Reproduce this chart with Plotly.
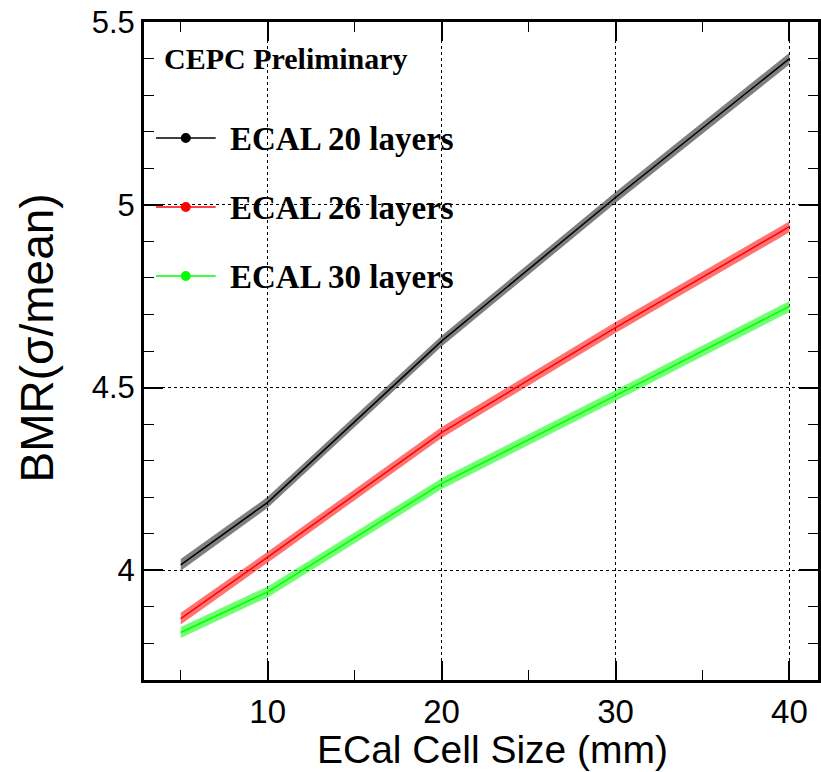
import plotly.graph_objects as go

# ---------------- data ----------------
cell_size = [5, 10, 20, 30, 40]
bmr_20_layers = [4.015, 4.186, 4.627, 5.020, 5.400]
bmr_26_layers = [3.868, 4.036, 4.377, 4.664, 4.940]
bmr_30_layers = [3.830, 3.941, 4.237, 4.478, 4.722]
err_20_layers = [0.016, 0.015, 0.015, 0.015, 0.016]
err_26_layers = [0.016, 0.015, 0.015, 0.015, 0.015]
err_30_layers = [0.015, 0.015, 0.015, 0.015, 0.015]

series_names = ["ECAL 20 layers", "ECAL 26 layers", "ECAL 30 layers"]
series_vals = [bmr_20_layers, bmr_26_layers, bmr_30_layers]
series_errs = [err_20_layers, err_26_layers, err_30_layers]
line_colors = ["#000000", "#ff0000", "#00ff00"]
band_colors = ["rgba(0,0,0,0.5)", "rgba(255,0,0,0.55)", "rgba(0,255,0,0.55)"]

x_ticks = [10, 20, 30, 40]
y_ticks = [4, 4.5, 5, 5.5]
x_title = "ECal Cell Size (mm)"
y_title = "BMR(σ/mean)"
label_text = "CEPC Preliminary"

# ---------------- geometry ----------------
W, H = 821, 772
L, R, T, B = 144, 0, 22, 92
PW, PH = W - L - R, H - T - B


def px(xp):
    return (xp - L) / PW


def py(yp):
    return (H - B - yp) / PH


fig = go.Figure()

for name, vals, errs, lc, bc in zip(series_names, series_vals, series_errs,
                                     line_colors, band_colors):
    lo = [v - e for v, e in zip(vals, errs)]
    hi = [v + e for v, e in zip(vals, errs)]
    fig.add_trace(go.Scatter(x=cell_size, y=lo, mode="lines",
                             line=dict(width=0, color=lc), showlegend=False,
                             hoverinfo="skip"))
    fig.add_trace(go.Scatter(x=cell_size, y=hi, mode="lines",
                             line=dict(width=0, color=lc), fill="tonexty",
                             fillcolor=bc, showlegend=False,
                             hoverinfo="skip"))
    fig.add_trace(go.Scatter(x=cell_size, y=vals, mode="lines", name=name,
                             line=dict(width=1.5, color=lc), showlegend=False))

# ---------------- manual legend ----------------
legend_y = [138, 207, 276]
shapes = []
annotations = []
for name, lc, yy in zip(series_names, line_colors, legend_y):
    shapes.append(dict(type="line", xref="paper", yref="paper",
                       x0=px(156), x1=px(216), y0=py(yy), y1=py(yy),
                       line=dict(color=lc, width=1.5)))
    shapes.append(dict(type="circle", xref="paper", yref="paper",
                       x0=px(181), x1=px(191), y0=py(yy + 5), y1=py(yy - 5),
                       fillcolor=lc, line=dict(color=lc, width=0)))
    annotations.append(dict(xref="paper", yref="paper", x=px(228), y=py(yy + 1),
                            xanchor="left", yanchor="middle", showarrow=False,
                            text="<b>" + name + "</b>",
                            font=dict(family="Liberation Serif", size=33,
                                      color="black")))

annotations.append(dict(xref="paper", yref="paper", x=px(162), y=py(59),
                        xanchor="left", yanchor="middle", showarrow=False,
                        text="<b>" + label_text + "</b>",
                        font=dict(family="Liberation Serif", size=30,
                                  color="black")))

# axis titles
annotations.append(dict(xref="paper", yref="paper", x=px(494), y=py(749),
                        xanchor="center", yanchor="middle", showarrow=False,
                        text=x_title,
                        font=dict(family="Liberation Sans", size=39,
                                  color="black")))
annotations.append(dict(xref="paper", yref="paper", x=px(37), y=py(338),
                        xanchor="center", yanchor="middle", showarrow=False,
                        text=y_title, textangle=-90,
                        font=dict(family="Liberation Sans", size=46,
                                  color="black")))

axis_common = dict(
    showline=True, linecolor="black", linewidth=3, mirror="ticks",
    ticks="inside", ticklen=19, tickwidth=1.5, tickcolor="black",
    showgrid=True, gridcolor="black", gridwidth=1, griddash="dot",
    zeroline=False,
)

fig.update_layout(
    width=W, height=H,
    margin=dict(l=L, r=R, t=T, b=B),
    paper_bgcolor="white", plot_bgcolor="white",
    showlegend=False,
    shapes=shapes, annotations=annotations,
    xaxis=dict(range=[2.89, 41.64], tickvals=x_ticks,
               ticktext=[str(v) for v in x_ticks],
               tickfont=dict(family="Liberation Sans", size=33, color="black"),
               minor=dict(dtick=5, tick0=0, ticklen=10, tickwidth=1.2,
                          tickcolor="black", ticks="inside", showgrid=False),
               **axis_common),
    yaxis=dict(range=[3.7, 5.5], tickvals=y_ticks,
               ticktext=["4", "4.5", "5", "5.5"],
               tickfont=dict(family="Liberation Sans", size=31, color="black"),
               minor=dict(dtick=0.1, tick0=0, ticklen=10, tickwidth=1.2,
                          tickcolor="black", ticks="inside", showgrid=False),
               **axis_common),
)

fig.write_html("out.html")
